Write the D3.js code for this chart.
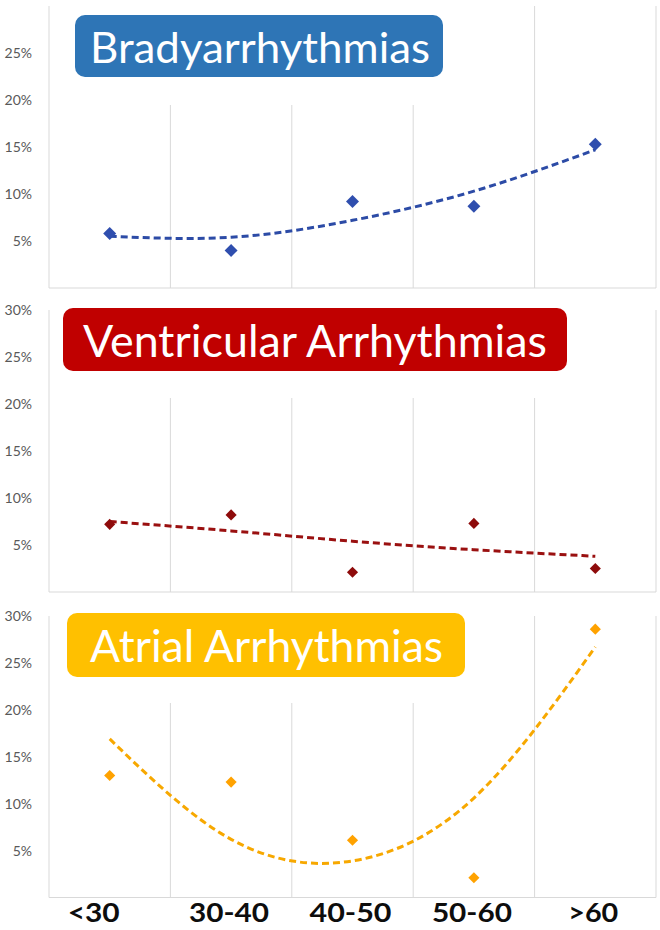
<!DOCTYPE html>
<html>
<head>
<meta charset="utf-8">
<script src="https://cdn.jsdelivr.net/npm/d3@7"></script>
<style>
  html, body { margin: 0; padding: 0; background: #ffffff; }
  svg { display: block; }
</style>
</head>
<body>
<svg id="chart" width="660" height="930"></svg>
<script>
// ---------------- data ----------------
const categories = ["<30", "30-40", "40-50", "50-60", ">60"];
const yTicks = [5, 10, 15, 20, 25, 30];
const titles = ["Bradyarrhythmias", "Ventricular Arrhythmias", "Atrial Arrhythmias"];

const bradyValues  = [5.8, 4.0, 9.2, 8.7, 15.3];
const bradyTrend   = [5.5, 5.4, 7.2, 10.3, 14.7];
const ventValues   = [7.2, 8.2, 2.1, 7.3, 2.5];
const ventTrend    = [7.5, 6.5, 5.4, 4.5, 3.8];
const atrialValues = [13.0, 12.3, 6.1, 2.1, 28.6];
const atrialTrend  = [16.9, 6.2, 3.9, 10.6, 26.7];

// ---------------- layout ----------------
const svg = d3.select("#chart");
const left = 49, right = 656;

const panels = [
  { title: titles[0], values: bradyValues, trend: bradyTrend,
    y0: 288, y30: 6, showTop: false, gridStart: 105, coverRight: 470,
    box: {x: 75, y: 15, w: 368, h: 62}, boxColor: "#2E75B6",
    textX: 90, textBase: 63, textLen: 340, fontSize: 42,
    marker: "#2F4EAE", line: "#2C4BA6", markerArea: 84 },
  { title: titles[1], values: ventValues, trend: ventTrend,
    y0: 592, y30: 310, showTop: true, gridStart: 398, coverRight: 600,
    box: {x: 63, y: 308, w: 504, h: 63}, boxColor: "#C00000",
    textX: 83, textBase: 357, textLen: 464, fontSize: 44,
    marker: "#8E0B0B", line: "#9A1010", markerArea: 62 },
  { title: titles[2], values: atrialValues, trend: atrialTrend,
    y0: 897.5, y30: 616, showTop: true, gridStart: 703, coverRight: 490,
    box: {x: 67, y: 613, w: 398, h: 64}, boxColor: "#FFC000",
    textX: 90, textBase: 662, textLen: 353, fontSize: 44,
    marker: "#FFA200", line: "#F7A800", markerArea: 62 }
];

const x = d3.scaleBand().domain(categories).range([left, right]).paddingInner(0).paddingOuter(0);
const cx = d => x(d) + x.bandwidth() / 2;

panels.forEach(p => {
  const y = d3.scaleLinear().domain([0, 30]).range([p.y0, p.y30]);
  const g = svg.append("g");

  // vertical gridlines at category boundaries
  const bounds = categories.slice(1).map(c => x(c));
  g.selectAll("line.grid").data(bounds).enter().append("line")
    .attr("x1", d => d).attr("x2", d => d)
    .attr("y1", y(30)).attr("y2", y(0))
    .attr("stroke", "#D9D9D9").attr("stroke-width", 1);

  // right border
  g.append("line").attr("x1", right).attr("x2", right)
    .attr("y1", y(30)).attr("y2", y(0))
    .attr("stroke", "#D9D9D9").attr("stroke-width", 1);

  // white text-box background covering upper gridlines
  g.append("rect").attr("x", left + 1).attr("y", y(30) - 1)
    .attr("width", p.coverRight - left - 1).attr("height", p.gridStart - y(30) + 1)
    .attr("fill", "#ffffff");

  // left axis line and bottom axis line
  g.append("line").attr("x1", left).attr("x2", left)
    .attr("y1", y(30)).attr("y2", y(0))
    .attr("stroke", "#D9D9D9").attr("stroke-width", 1);
  g.append("line").attr("x1", left).attr("x2", right)
    .attr("y1", y(0)).attr("y2", y(0))
    .attr("stroke", "#D9D9D9").attr("stroke-width", 1);

  // y tick labels
  const ticks = p.showTop ? yTicks : yTicks.filter(t => t < 30);
  g.selectAll("text.ytick").data(ticks).enter().append("text")
    .attr("x", 32).attr("y", d => y(d))
    .attr("dy", "0.36em")
    .attr("text-anchor", "end")
    .attr("font-family", "Lato, 'Open Sans', sans-serif")
    .attr("font-size", 14)
    .attr("fill", "#595959")
    .text(d => d + "%");

  // title box
  g.append("rect").attr("x", p.box.x).attr("y", p.box.y)
    .attr("width", p.box.w).attr("height", p.box.h)
    .attr("rx", 10).attr("ry", 10)
    .attr("fill", p.boxColor);
  g.append("text").attr("x", p.textX).attr("y", p.textBase)
    .attr("font-family", "Lato, 'Open Sans', sans-serif")
    .attr("font-size", p.fontSize)
    .attr("fill", "#ffffff")
    .attr("textLength", p.textLen)
    .attr("lengthAdjust", "spacingAndGlyphs")
    .text(p.title);

  // trendline
  const line = d3.line()
    .x((d, i) => cx(categories[i]))
    .y(d => y(d))
    .curve(d3.curveNatural);
  g.append("path").datum(p.trend)
    .attr("d", line)
    .attr("fill", "none")
    .attr("stroke", p.line)
    .attr("stroke-width", 3)
    .attr("stroke-dasharray", "7,4");

  // markers (diamonds)
  const sym = d3.symbol().type(d3.symbolSquare).size(p.markerArea);
  g.selectAll("path.pt").data(p.values).enter().append("path")
    .attr("d", sym)
    .attr("transform", (d, i) => `translate(${cx(categories[i])},${y(d)}) rotate(45)`)
    .attr("fill", p.marker);
});

// x-axis category labels (bottom)
const labelWidths = [52, 80, 82, 80, 50];
svg.selectAll("text.xlab").data(categories).enter().append("text")
  .attr("x", d => cx(d))
  .attr("dx", (d, i) => i === 0 ? -16 : -2)
  .attr("y", 922)
  .attr("text-anchor", "middle")
  .attr("font-family", "Lato, 'Open Sans', sans-serif")
  .attr("font-weight", "bold")
  .attr("font-size", 26)
  .attr("fill", "#0d0d0d")
  .attr("textLength", (d, i) => labelWidths[i])
  .attr("lengthAdjust", "spacingAndGlyphs")
  .text(d => d);
</script>
</body>
</html>
